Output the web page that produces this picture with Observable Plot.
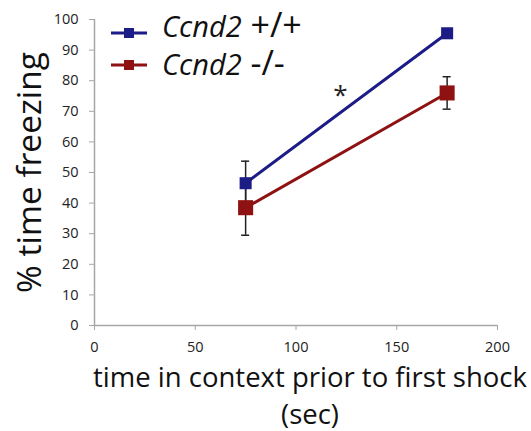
<!DOCTYPE html>
<html><head><meta charset="utf-8">
<script src="https://cdn.jsdelivr.net/npm/d3@7"></script>
<script src="https://cdn.jsdelivr.net/npm/@observablehq/plot@0.6"></script>
<style>
body{margin:0;background:#fff;font-family:"Open Sans",sans-serif;}
#wrap{position:relative;width:531px;height:431px;}
#legend{position:absolute;left:0;top:0;}
</style></head>
<body><div id="wrap"></div>
<script>
const times = [75, 175];
const groups = ["Ccnd2 +/+", "Ccnd2 -/-"];
const wtMean = [46.5, 95.5];
const wtErr = [7.2, 0];
const koMean = [38.5, 76];
const koErr = [9, 5.3];
const colors = ["#1c1c86", "#8e1212"];
const xTicks = [0, 50, 100, 150, 200];
const yTicks = [0, 10, 20, 30, 40, 50, 60, 70, 80, 90, 100];
const sig = [{x: 122, y: 75, label: "*"}];

const data = [];
times.forEach((t, i) => {
  data.push({g: groups[0], x: t, y: wtMean[i], e: wtErr[i]});
  data.push({g: groups[1], x: t, y: koMean[i], e: koErr[i]});
});
const errs = data.filter(d => d.e > 0);

const plot = Plot.plot({
  width: 531, height: 431,
  marginLeft: 94, marginRight: 34, marginTop: 19, marginBottom: 106,
  style: {fontFamily: "Open Sans, sans-serif", background: "#fff"},
  x: {domain: [0, 200]},
  y: {domain: [0, 100]},
  color: {domain: groups, range: colors},
  marks: [
    Plot.ruleX([0], {stroke: "#a6a6a6", strokeWidth: 1.5}),
    Plot.ruleY([0], {stroke: "#a6a6a6", strokeWidth: 1.5}),
    Plot.axisY({ticks: yTicks, tickSize: 5, stroke: "#a6a6a6", tickPadding: 11, fontSize: 14.5, color: "#222", label: null}),
    Plot.axisX({ticks: xTicks, tickSize: 5, stroke: "#a6a6a6", tickPadding: 11, fontSize: 14.5, color: "#222", label: null}),
    Plot.ruleX(errs, {x: "x", y1: d => d.y - d.e, y2: d => d.y + d.e, stroke: "#222", strokeWidth: 1.5}),
    Plot.ruleY(errs, {y: d => d.y - d.e, x1: d => d.x - 2, x2: d => d.x + 2, stroke: "#222", strokeWidth: 1.5}),
    Plot.ruleY(errs, {y: d => d.y + d.e, x1: d => d.x - 2, x2: d => d.x + 2, stroke: "#222", strokeWidth: 1.5}),
    Plot.line(data, {x: "x", y: "y", z: "g", stroke: "g", strokeWidth: 3}),
    Plot.dot(data.filter(d => d.g === groups[0]), {x: "x", y: "y", fill: "g", symbol: "square", r: 6.8}),
    Plot.dot(data.filter(d => d.g === groups[1]), {x: "x", y: "y", fill: "g", symbol: "square", r: 8.5}),
    Plot.text(sig, {x: "x", y: "y", text: "label", fontSize: 26, fill: "#222"}),
    Plot.text(["% time freezing"], {frameAnchor: "left", textAnchor: "middle", lineAnchor: "middle", rotate: -90, dx: -64, fontSize: 33.5, fill: "#111"}),
    Plot.text(["time in context prior to first shock"], {frameAnchor: "bottom", lineAnchor: "middle", dy: 53, dx: 14, fontSize: 27.5, fill: "#111"}),
    Plot.text(["(sec)"], {frameAnchor: "bottom", lineAnchor: "middle", dy: 90, dx: 14, fontSize: 27.5, fill: "#111"})
  ]
});
const wrap = document.getElementById("wrap");
wrap.appendChild(plot);

// legend overlay
const ns = "http://www.w3.org/2000/svg";
const lg = document.createElementNS(ns, "svg");
lg.setAttribute("id", "legend");
lg.setAttribute("width", 531);
lg.setAttribute("height", 90);
const lineY = [33, 65];
const textY = [37, 75];
groups.forEach((g, i) => {
  const y = lineY[i];
  const ln = document.createElementNS(ns, "line");
  ln.setAttribute("x1", 111); ln.setAttribute("x2", 147);
  ln.setAttribute("y1", y); ln.setAttribute("y2", y);
  ln.setAttribute("stroke", colors[i]); ln.setAttribute("stroke-width", 3);
  lg.appendChild(ln);
  const r = document.createElementNS(ns, "rect");
  r.setAttribute("x", 124); r.setAttribute("y", y - 5);
  r.setAttribute("width", 10); r.setAttribute("height", 10);
  r.setAttribute("fill", colors[i]);
  lg.appendChild(r);
  const t = document.createElementNS(ns, "text");
  t.setAttribute("x", 162); t.setAttribute("y", textY[i]);
  t.setAttribute("font-size", 29);
  t.setAttribute("font-family", "Open Sans, sans-serif");
  t.setAttribute("fill", "#111");
  const parts = g.split(" ");
  const a = document.createElementNS(ns, "tspan");
  a.setAttribute("font-style", "italic");
  a.textContent = parts[0];
  const b = document.createElementNS(ns, "tspan");
  b.setAttribute("font-size", 34);
  b.textContent = " " + parts[1];
  t.appendChild(a); t.appendChild(b);
  lg.appendChild(t);
});
wrap.appendChild(lg);
</script>
</body></html>
